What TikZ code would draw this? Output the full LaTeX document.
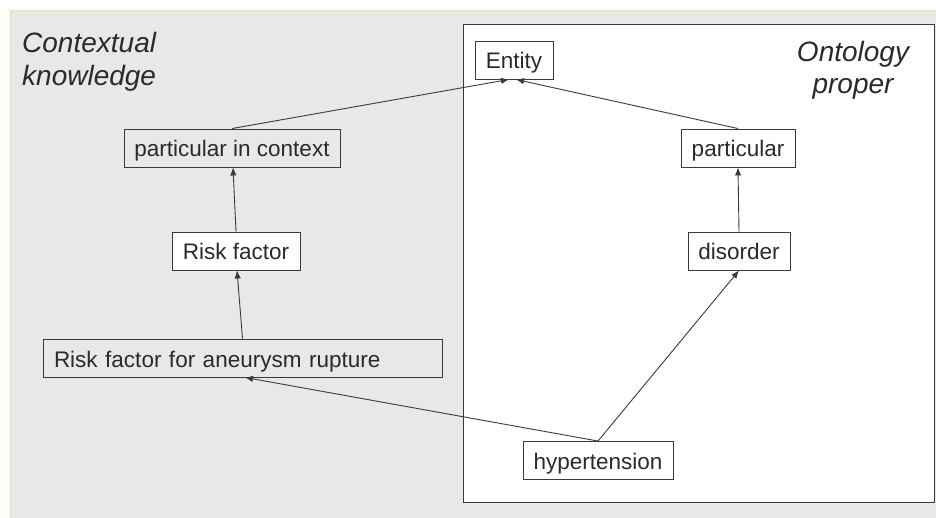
\documentclass[tikz,border=0pt]{standalone}
\usepackage{fontspec}
\setmainfont{Liberation Sans}
\usetikzlibrary{arrows.meta}
\definecolor{bggray}{HTML}{E8E8E8}
\definecolor{edgeyel}{HTML}{F3DDA0}
\definecolor{ink}{HTML}{2A2A2A}
\definecolor{linec}{HTML}{3A3A3A}
\tikzset{
  box/.style={draw=linec, line width=0.9pt, inner sep=0pt, minimum height=38pt,
    text height=20pt, text depth=2pt,
    font=\fontsize{22.5}{27}\selectfont, text=ink, anchor=center},
  arr/.style={draw=linec, line width=0.9pt, -{Latex[length=8pt,width=6.5pt]}},
  title/.style={font=\fontsize{28}{33}\selectfont\itshape, text=ink, inner sep=0pt}
}
\begin{document}
\begin{tikzpicture}[x=1pt,y=-1pt]
\useasboundingbox (0,0) rectangle (936,518);
\fill[white] (0,0) rectangle (936,518);
\fill[bggray] (10,11) rectangle (936,518);
\draw[edgeyel, line width=1pt] (10,518) -- (10,11) -- (936,11);
\draw[linec, line width=1pt, fill=white] (463,25) rectangle (934,502);

\node[title, anchor=base west] (t1) at (22,53) {Contextual};
\node[title, anchor=base west] (t2) at (22,86) {knowledge};
\node[title, anchor=base] (t3) at (853,62) {Ontology};
\node[title, anchor=base] (t4) at (853,94) {proper};

\node[box, fill=white, minimum width=78pt] (entity) at (514,60) {Entity};
\node[box, minimum width=216pt] (pic) at (232,148) {particular in context};
\node[box, fill=white, minimum width=128pt] (rf) at (236,251) {Risk factor};
\node[box, text width=377pt, align=left, inner xsep=11pt] (rfar) at (242.5,358) {Risk factor for aneurysm rupture};
\node[box, fill=white, minimum width=114pt] (part) at (738,148) {particular};
\node[box, fill=white, minimum width=102pt] (dis) at (739,251) {disorder};
\node[box, fill=white, minimum width=150pt] (hyp) at (598,460.5) {hypertension};

\draw[arr] (pic.north) -- ([xshift=-5pt]entity.south);
\draw[arr] (part.north) -- ([xshift=2pt]entity.south);
\draw[arr] (rf.north) -- ([xshift=1pt]pic.south);
\draw[arr] (rfar.north) -- ([xshift=1pt]rf.south);
\draw[arr] (hyp.north) -- ([xshift=2.5pt]rfar.south);
\draw[arr] (hyp.north) -- (dis.south);
\draw[arr] (dis.north) -- (part.south);
\end{tikzpicture}
\end{document}
